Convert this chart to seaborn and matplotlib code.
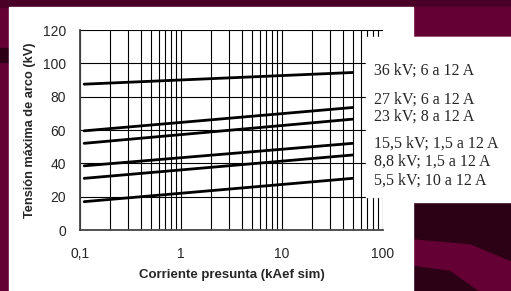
import numpy as np
import pandas as pd
import matplotlib
matplotlib.use("Agg")
import matplotlib.pyplot as plt
import seaborn as sns
from matplotlib.patches import Rectangle, Polygon
from matplotlib.ticker import FuncFormatter, LogLocator, NullFormatter

# data (line end points, straight on log x)
corriente = [0.11, 50]
etiquetas = ["36 kV; 6 a 12 A", "27 kV; 6 a 12 A", "23 kV; 8 a 12 A",
             "15,5 kV; 1,5 a 12 A", "8,8 kV; 1,5 a 12 A", "5,5 kV; 10 a 12 A"]
v_inicio = [87.5, 59.5, 52.0, 38.5, 31.0, 17.0]
v_fin = [94.5, 73.5, 66.5, 52.0, 45.0, 31.0]
label_y = [71, 100, 117, 144, 162, 181]  # pixel rows of the side labels

W, H = 511, 291
sns.set_style("white")
plt.rcParams['font.family'] = ['Liberation Sans', 'DejaVu Sans']

rows = []
for name, a, b in zip(etiquetas, v_inicio, v_fin):
    for x, y in zip(corriente, [a, b]):
        rows.append({"serie": name, "corriente": x, "tension": y})
df = pd.DataFrame(rows)

fig = plt.figure(figsize=(W / 100, H / 100), dpi=100)
fig.patch.set_facecolor("#640033")

def px(x0, y0, x1, y1, **kw):
    # rectangle in pixel coords (top-left origin)
    return Rectangle((x0 / W, 1 - y1 / H), (x1 - x0) / W, (y1 - y0) / H,
                     transform=fig.transFigure, **kw)

# slide background bits
fig.add_artist(px(0, 0, W, 7, color="#4a0026", zorder=-3))
fig.add_artist(px(0, 48, 9, 62, color="#2e0016", zorder=-3))
fig.add_artist(px(413, 202, W, H, color="#2c0015", zorder=-3))
fig.add_artist(Polygon([(413 / W, 1 - 240 / H), (470 / W, 1 - 245 / H), (W / W, 1 - 262 / H),
                        (1, 0), (480 / W, 0), (450 / W, 1 - 270 / H), (413 / W, 1 - 265 / H)],
                       closed=True, transform=fig.transFigure, color="#640033", zorder=-2))
fig.add_artist(px(413, 7, W, 37, color="#640033", zorder=-2))
# white slide area
fig.add_artist(px(9, 7, 413, H, color="white", zorder=-1))
fig.add_artist(px(413, 37, W, 202, color="white", zorder=-1))

ax = fig.add_axes([80 / W, 61 / H, 303 / W, 200 / H])
ax.set_facecolor("none")
sns.lineplot(data=df, x="corriente", y="tension", units="serie", estimator=None,
             color="black", linewidth=2.0, ax=ax)
ax.set_xscale("log")
ax.set_xlim(0.1, 100)
ax.set_ylim(0, 120)
ax.set_yticks(range(0, 121, 20))
ax.xaxis.set_major_locator(LogLocator(base=10))
ax.xaxis.set_minor_locator(LogLocator(base=10, subs=np.arange(2, 10)))
ax.xaxis.set_minor_formatter(NullFormatter())
ax.xaxis.set_major_formatter(FuncFormatter(lambda v, p: ("%g" % v).replace(".", ",")))
ax.grid(True, which="both", axis="x", color="black", linewidth=0.8)
ax.grid(True, which="major", axis="y", color="black", linewidth=0.8)
for s in ["top", "right"]:
    ax.spines[s].set_visible(False)
for s in ["left", "bottom"]:
    ax.spines[s].set_color("#444444")
    ax.spines[s].set_linewidth(1.3)
ax.tick_params(axis="both", which="major", direction="out", length=4, width=1,
               color="#444444", labelsize=10, pad=6)
ax.tick_params(axis="x", which="minor", length=0)
ax.tick_params(axis="x", which="major", pad=8)
ax.set_xlabel("Corriente presunta (kAef sim)", fontsize=9.5, fontweight="bold", labelpad=6)
ax.set_ylabel("Tensión máxima de arco (kV)", fontsize=9.2, fontweight="bold", labelpad=5)

# label box covering the grid on the right
fig.add_artist(px(366, 37, W, 197, color="white", zorder=5))
for t, y in zip(etiquetas, label_y):
    fig.text(374 / W, 1 - y / H, t, fontsize=11.5, family="Liberation Serif",
             va="center", ha="left", zorder=6)

fig.savefig("out.png", dpi=100, facecolor=fig.get_facecolor())
